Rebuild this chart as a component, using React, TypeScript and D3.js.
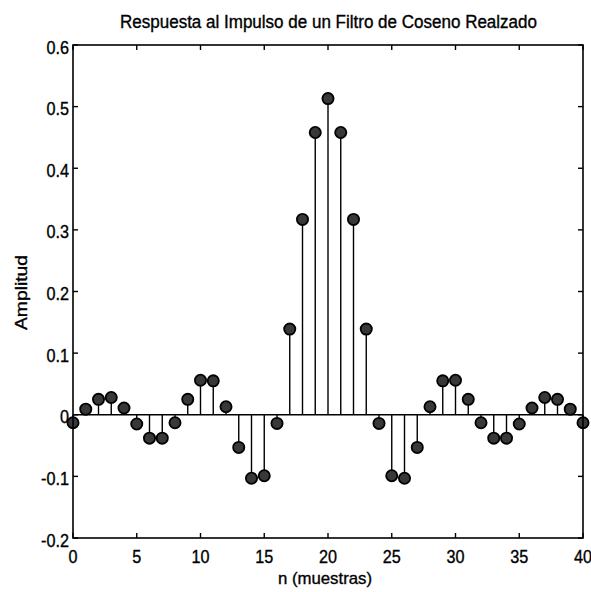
import React from "react";
import * as d3 from "d3";

// Impulse response samples h[n], n = 0..40
const sampleIndex: number[] = Array.from({ length: 41 }, (_, i) => i);
const amplitude: number[] = [
  -0.013, 0.009, 0.025, 0.028, 0.011, -0.015, -0.038, -0.038, -0.013, 0.025,
  0.056, 0.055, 0.013, -0.053, -0.103, -0.099, -0.014, 0.139, 0.317, 0.458,
  0.513, 0.458, 0.317, 0.139, -0.014, -0.099, -0.103, -0.053, 0.013, 0.055,
  0.056, 0.025, -0.013, -0.038, -0.038, -0.015, 0.011, 0.028, 0.025, 0.009,
  -0.013,
];
const xTicks: number[] = [0, 5, 10, 15, 20, 25, 30, 35, 40];
const yTicks: number[] = [-0.2, -0.1, 0, 0.1, 0.2, 0.3, 0.4, 0.5, 0.6];

const titleText = "Respuesta al Impulso de un Filtro de Coseno Realzado";
const xLabel = "n (muestras)";
const yLabel = "Amplitud";

const W = 591;
const H = 592;
const plot = { left: 73, right: 583, top: 45, bottom: 538 };
const font = "'Liberation Sans', Arial, sans-serif";

// tick label format with a plain hyphen for negatives
const fmt = (v: number) =>
  Math.abs(v) < 1e-9 ? "0" : (v < 0 ? "-" : "") + Math.abs(v).toFixed(1);

export default function App() {
  const x = d3.scaleLinear().domain([0, 40]).range([plot.left, plot.right]);
  const y = d3.scaleLinear().domain([-0.2, 0.6]).range([plot.bottom, plot.top]);
  const tickLen = 5;
  const textStyle = { stroke: "#000", strokeWidth: 0.35 };

  return (
    <svg
      width={W}
      height={H}
      style={{ position: "absolute", left: 0, top: 0, background: "#fff" }}
      fontFamily={font}
    >
      <rect x={0} y={0} width={W} height={H} fill="#fff" />
      {/* baseline */}
      <line x1={x(0)} x2={x(40)} y1={y(0)} y2={y(0)} stroke="#000" strokeWidth={1.6} />
      {/* stems */}
      {sampleIndex.map((n, i) => (
        <line
          key={"s" + n}
          x1={x(n)}
          x2={x(n)}
          y1={y(0)}
          y2={y(amplitude[i])}
          stroke="#000"
          strokeWidth={1.4}
        />
      ))}
      {/* markers */}
      {sampleIndex.map((n, i) => (
        <circle
          key={"m" + n}
          cx={x(n)}
          cy={y(amplitude[i])}
          r={5.6}
          fill="#383838"
          stroke="#000"
          strokeWidth={1.8}
        />
      ))}
      {/* axes box */}
      <rect
        x={plot.left}
        y={plot.top}
        width={plot.right - plot.left}
        height={plot.bottom - plot.top}
        fill="none"
        stroke="#000"
        strokeWidth={1.6}
      />
      {xTicks.map((t) => (
        <g key={"xt" + t}>
          <line x1={x(t)} x2={x(t)} y1={plot.bottom} y2={plot.bottom - tickLen} stroke="#000" strokeWidth={1.4} />
          <line x1={x(t)} x2={x(t)} y1={plot.top} y2={plot.top + tickLen} stroke="#000" strokeWidth={1.4} />
          <text
            transform={`translate(${x(t)}, ${plot.bottom + 25}) scale(0.9, 1)`}
            textAnchor="middle"
            fontSize={18}
            fill="#000"
            style={textStyle}
          >
            {t}
          </text>
        </g>
      ))}
      {yTicks.map((t) => (
        <g key={"yt" + t}>
          <line x1={plot.left} x2={plot.left + tickLen} y1={y(t)} y2={y(t)} stroke="#000" strokeWidth={1.4} />
          <line x1={plot.right} x2={plot.right - tickLen} y1={y(t)} y2={y(t)} stroke="#000" strokeWidth={1.4} />
          <text
            transform={`translate(${plot.left - 4}, ${y(t) + 8.5}) scale(0.9, 1)`}
            textAnchor="end"
            fontSize={18}
            fill="#000"
            style={textStyle}
          >
            {fmt(t)}
          </text>
        </g>
      ))}
      <text
        x={120}
        y={28}
        fontSize={17.5}
        fill="#000"
        textLength={417}
        lengthAdjust="spacingAndGlyphs"
        style={textStyle}
      >
        {titleText}
      </text>
      <text
        x={278}
        y={584}
        fontSize={17}
        fill="#000"
        textLength={94}
        lengthAdjust="spacingAndGlyphs"
        style={textStyle}
      >
        {xLabel}
      </text>
      <text
        transform={`translate(27, 330) rotate(-90)`}
        fontSize={17}
        fill="#000"
        textLength={75}
        lengthAdjust="spacingAndGlyphs"
        style={textStyle}
      >
        {yLabel}
      </text>
    </svg>
  );
}
